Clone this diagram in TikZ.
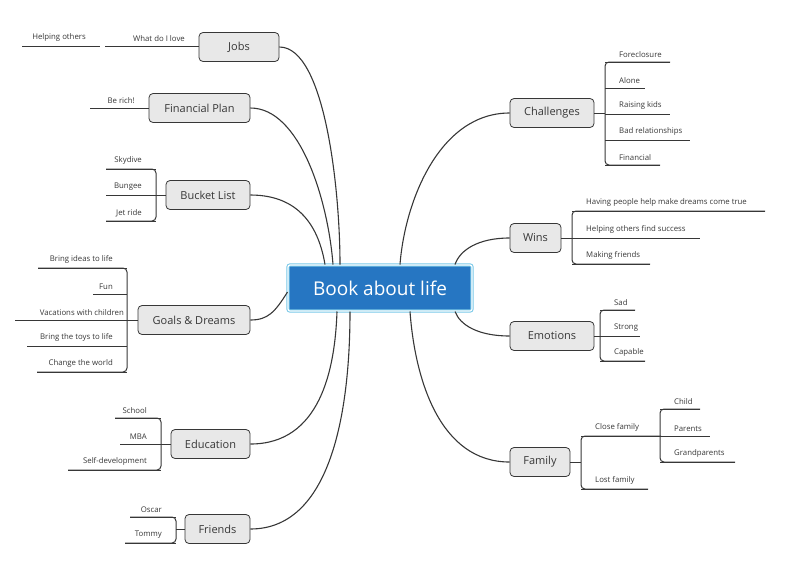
\documentclass[tikz,border=0pt]{standalone}
\usepackage{fontspec}
\setmainfont{Open Sans}
\usetikzlibrary{calc}
\definecolor{bookblue}{RGB}{38,118,194}
\definecolor{bookrim}{RGB}{120,200,232}
\definecolor{topicgray}{RGB}{232,232,232}
\definecolor{inkgray}{RGB}{55,55,55}
\newcommand\lleaf[5]{% name, x1, x2, y, text
  \draw[branch] (#2,#4) -- (#3,#4);
  \node[leaf,anchor=south east] (#1) at (#3-12,#4) {#5};}
\newcommand\rleaf[5]{% name, x1, x2, y, text
  \draw[branch] (#2,#4) -- (#3,#4);
  \node[leaf,anchor=south west] (#1) at (#2+12,#4) {#5};}
\begin{document}
\begin{tikzpicture}[x=1pt,y=-1pt,
    branch/.style={draw=inkgray,line width=1pt},
    bracket/.style={branch,rounded corners=4pt},
    topic/.style={draw=inkgray,fill=topicgray,rounded corners=4pt,line width=0.8pt,
      minimum height=29pt,inner xsep=9pt,font=\fontsize{11}{13}\selectfont,text=inkgray},
    leaf/.style={inner xsep=2pt,inner ysep=4pt,font=\fontsize{7.8}{9}\selectfont,text=inkgray},
    link/.style={draw=inkgray,line width=1.1pt}]
\useasboundingbox (0,0) rectangle (800,571);

%% central topic
\node[fill=bookblue,draw=bookrim,double=white,double distance=1.2pt,line width=1pt,
  rounded corners=2pt,minimum width=184pt,minimum height=46pt,text=white,
  font=\fontsize{19}{22}\selectfont] (book) at (380,288) {Book about life};

%% left topics
\node[topic,minimum width=80pt] (jobs) at (239,47) {Jobs};
\node[topic,minimum width=101pt] (plan) at (199.5,108) {Financial Plan};
\node[topic,minimum width=84pt] (bucket) at (208,195) {Bucket List};
\node[topic,minimum width=112pt] (goals) at (194,320) {Goals \& Dreams};
\node[topic,minimum width=79pt] (edu) at (210.5,444) {Education};
\node[topic,minimum width=65pt] (friends) at (217.5,529) {Friends};

%% right topics
\node[topic,minimum width=84pt] (chall) at (552,113) {Challenges};
\node[topic,minimum width=51pt] (wins) at (535.5,238) {Wins};
\node[topic,minimum width=84pt] (emo) at (552,336) {Emotions};
\node[topic,minimum width=60pt] (family) at (540,462) {Family};

%% links to the centre
\draw[link] (jobs.east) .. controls (325,47) and (340,190) .. ($(book.north)+(-40,0)$);
\draw[link] (plan.east) .. controls (300,108) and (328,200) .. ($(book.north)+(-47,0)$);
\draw[link] (bucket.east) .. controls (305,195) and (320,235) .. ($(book.north)+(-55,0)$);
\draw[link] (goals.east) .. controls (268,320) and (275,312) .. ($(book.west)+(0,4)$);
\draw[link] (edu.east) .. controls (320,444) and (335,370) .. ($(book.south)+(-43,0)$);
\draw[link] (friends.east) .. controls (335,529) and (350,400) .. ($(book.south)+(-30,0)$);
\draw[link] (chall.west) .. controls (440,113) and (405,200) .. ($(book.north)+(20,0)$);
\draw[link] (wins.west) .. controls (478,238) and (460,250) .. ($(book.north)+(75,0)$);
\draw[link] (emo.west) .. controls (478,336) and (460,325) .. ($(book.south)+(75,0)$);
\draw[link] (family.west) .. controls (440,462) and (415,380) .. ($(book.south)+(30,0)$);

%% Jobs
\lleaf{love}{105}{199}{46}{What do I love}
\lleaf{helping}{22}{100}{46}{Helping others}

%% Financial Plan
\lleaf{rich}{90}{149}{108}{Be rich!}

%% Bucket List
\draw[branch] (bucket.west) -- (156,195);
\draw[bracket] (106,169) -- (156,169) -- (156,221) -- (106,221);
\lleaf{skydive}{106}{156}{169}{Skydive}
\lleaf{bungee}{106}{156}{195}{Bungee}
\lleaf{jet}{106}{156}{221}{Jet ride}

%% Goals & Dreams
\draw[bracket] (38,268) -- (127,268) -- (127,372) -- (37,372);
\lleaf{ideas}{38}{127}{268}{Bring ideas to life}
\lleaf{fun}{93}{127}{294}{Fun}
\lleaf{vacation}{15}{138}{320}{Vacations with children}
\lleaf{toys}{27}{127}{346}{Bring the toys to life}
\lleaf{world}{37}{127}{372}{Change the world}

%% Education
\draw[branch] (edu.west) -- (161,444);
\draw[bracket] (115,418) -- (161,418) -- (161,470) -- (68,470);
\lleaf{school}{115}{161}{418}{School}
\lleaf{mba}{120}{161}{444}{MBA}
\lleaf{selfdev}{68}{161}{470}{Self-development}

%% Friends
\draw[branch] (friends.west) -- (176,529);
\draw[bracket] (130,517) -- (176,517) -- (176,543) -- (125,543);
\lleaf{oscar}{130}{176}{517}{Oscar}
\lleaf{tommy}{125}{176}{543}{Tommy}

%% Challenges
\draw[branch] (chall.east) -- (605,113);
\draw[bracket] (670,62) -- (605,62) -- (605,165) -- (660,165);
\rleaf{foreclosure}{605}{670}{62}{Foreclosure}
\rleaf{alone}{605}{645}{88}{Alone}
\rleaf{kids}{605}{670}{114}{Raising kids}
\rleaf{relations}{605}{690}{140}{Bad relationships}
\rleaf{financial}{605}{660}{165}{Financial}

%% Wins
\draw[branch] (wins.east) -- (572,238);
\draw[bracket] (765,211) -- (572,211) -- (572,264) -- (650,264);
\rleaf{dreams}{572}{765}{211}{Having people help make dreams come true}
\rleaf{success}{572}{700}{238}{Helping others find success}
\rleaf{friends2}{572}{650}{264}{Making friends}

%% Emotions
\draw[branch] (emo.east) -- (600,336);
\draw[bracket] (635,310) -- (600,310) -- (600,361) -- (645,361);
\rleaf{sad}{600}{635}{310}{Sad}
\rleaf{strong}{600}{640}{336}{Strong}
\rleaf{capable}{600}{645}{361}{Capable}

%% Family
\draw[branch] (family.east) -- (581,462);
\draw[bracket] (661,436) -- (581,436) -- (581,489) -- (648,489);
\rleaf{close}{581}{661}{436}{Close family}
\rleaf{lost}{581}{648}{489}{Lost family}
\draw[branch] (661,436) -- (710,436);
\draw[bracket] (700,409) -- (660,409) -- (660,462) -- (735,462);
\rleaf{child}{660}{700}{409}{Child}
\rleaf{parents}{660}{710}{436}{Parents}
\rleaf{grand}{660}{735}{462}{Grandparents}
\end{tikzpicture}
\end{document}
